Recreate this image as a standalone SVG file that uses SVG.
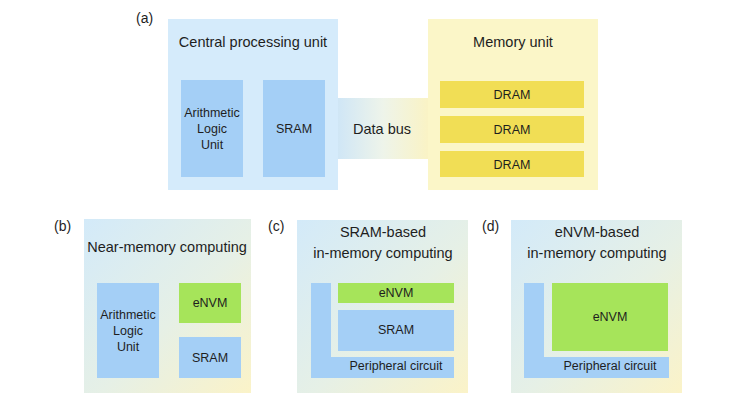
<svg xmlns="http://www.w3.org/2000/svg" width="737" height="400" viewBox="0 0 737 400">
<defs>
<linearGradient id="busGrad" x1="0" y1="0" x2="1" y2="0">
<stop offset="0" stop-color="#cfe6f6"/>
<stop offset="0.5" stop-color="#eef4ea"/>
<stop offset="1" stop-color="#faf3c4"/>
</linearGradient>
<linearGradient id="panelGrad" x1="0" y1="0" x2="1" y2="1">
<stop offset="0" stop-color="#d3eaf9"/>
<stop offset="0.55" stop-color="#e6f0e6"/>
<stop offset="1" stop-color="#fbf3c8"/>
</linearGradient>
</defs>
<style>
text{font-family:"Liberation Sans",Arial,sans-serif;fill:#1e1e1e;text-anchor:middle}
.title{font-size:14.5px}
.lbl{font-size:12.5px}
.tag{font-size:14px;text-anchor:start}
.cpu{fill:#d5ebfb}
.mem{fill:#fbf6c8}
.blue{fill:#a4cff6}
.dram{fill:#f1de55}
.green{fill:#a6e45a}
.panel{fill:url(#panelGrad)}
</style>
<rect width="737" height="400" fill="#ffffff"/>

<text class="tag" x="136" y="23">(a)</text>

<g id="connectors">
<g id="databus">
<rect x="337" y="98" width="92" height="61" fill="url(#busGrad)"/>
<text class="title" x="382" y="134">Data bus</text>
</g>
</g>

<g id="cpu">
<rect class="cpu" x="168" y="19" width="170" height="171"/>
<text class="title" x="253" y="47">Central processing unit</text>
<g id="cpu-alu">
<rect class="blue" x="181" y="80" width="62" height="97"/>
<text class="lbl" x="212" y="117">Arithmetic</text>
<text class="lbl" x="212" y="133">Logic</text>
<text class="lbl" x="212" y="149">Unit</text>
</g>
<g id="cpu-sram">
<rect class="blue" x="263" y="80" width="62" height="97"/>
<text class="lbl" x="294" y="133">SRAM</text>
</g>
</g>

<g id="memory">
<rect class="mem" x="428" y="19" width="170" height="171"/>
<text class="title" x="513" y="47">Memory unit</text>
<g id="dram1">
<rect class="dram" x="440" y="81" width="144" height="27"/>
<text class="lbl" x="512" y="99">DRAM</text>
</g>
<g id="dram2">
<rect class="dram" x="440" y="116" width="144" height="27"/>
<text class="lbl" x="512" y="134">DRAM</text>
</g>
<g id="dram3">
<rect class="dram" x="440" y="151" width="144" height="26"/>
<text class="lbl" x="512" y="169">DRAM</text>
</g>
</g>

<text class="tag" x="54" y="231">(b)</text>
<g id="panel-b">
<rect class="panel" x="84" y="219" width="167" height="174"/>
<text class="title" x="167" y="252">Near-memory computing</text>
<g id="b-alu">
<rect class="blue" x="97" y="283" width="62" height="95"/>
<text class="lbl" x="128" y="319">Arithmetic</text>
<text class="lbl" x="128" y="335">Logic</text>
<text class="lbl" x="128" y="351">Unit</text>
</g>
<g id="b-envm">
<rect class="green" x="179" y="283" width="62" height="40"/>
<text class="lbl" x="210" y="307">eNVM</text>
</g>
<g id="b-sram">
<rect class="blue" x="179" y="337" width="62" height="41"/>
<text class="lbl" x="210" y="362">SRAM</text>
</g>
</g>

<text class="tag" x="268" y="231">(c)</text>
<g id="panel-c">
<rect class="panel" x="297" y="220" width="171" height="173"/>
<text class="title" x="383" y="237">SRAM-based</text>
<text class="title" x="383" y="258">in-memory computing</text>
<g id="c-periph">
<path class="blue" d="M311 283H331V357H454V378H311Z"/>
<text class="lbl" x="396" y="370">Peripheral circuit</text>
</g>
<g id="c-envm">
<rect class="green" x="338" y="283" width="116" height="20"/>
<text class="lbl" x="396" y="297">eNVM</text>
</g>
<g id="c-sram">
<rect class="blue" x="338" y="310" width="116" height="41"/>
<text class="lbl" x="396" y="334">SRAM</text>
</g>
</g>

<text class="tag" x="482" y="231">(d)</text>
<g id="panel-d">
<rect class="panel" x="511" y="220" width="171" height="173"/>
<text class="title" x="597" y="237">eNVM-based</text>
<text class="title" x="597" y="258">in-memory computing</text>
<g id="d-periph">
<path class="blue" d="M524 283H544V357H669V378H524Z"/>
<text class="lbl" x="610" y="370">Peripheral circuit</text>
</g>
<g id="d-envm">
<rect class="green" x="552" y="283" width="116" height="68"/>
<text class="lbl" x="610" y="321">eNVM</text>
</g>
</g>
</svg>
